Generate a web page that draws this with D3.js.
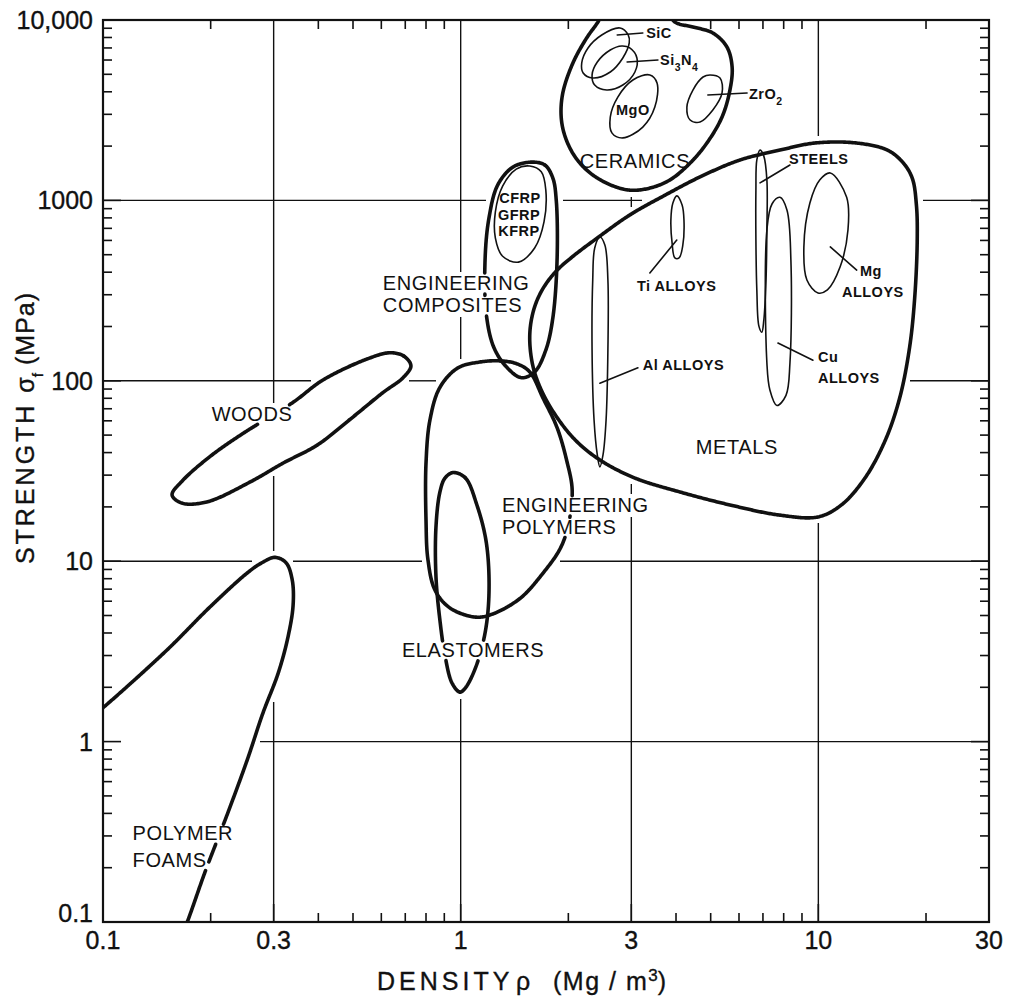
<!DOCTYPE html>
<html>
<head>
<meta charset="utf-8">
<title>Strength against density</title>
<script src="https://cdn.jsdelivr.net/npm/d3@7/dist/d3.min.js"></script>
<style>
  html, body { margin: 0; padding: 0; background: #fff; }
  svg { display: block; font-family: "Liberation Sans", Arial, Helvetica, sans-serif; }
</style>
</head>
<body>
<svg id="chart" width="1010" height="1002"></svg>
<script>
// ---------- axes ----------
const densityDomain = [0.1, 30];
const strengthDomain = [0.1, 10000];
const densityGrid = [0.3, 1, 3, 10];
const strengthGrid = [1, 10, 100, 1000];
const densityTickValues = [0.1, 0.3, 1, 3, 10, 30];
const densityTickLabels = ["0.1", "0.3", "1", "3", "10", "30"];
const strengthTickValues = [0.1, 1, 10, 100, 1000, 10000];
const strengthTickLabels = ["0.1", "1", "10", "100", "1000", "10,000"];

// ---------- material class envelopes: [density Mg/m3, strength MPa] ----------
const polymerFoams = [[0.09,1.3],[0.1,1.54],[0.151,3.22],[0.199,5.57],[0.253,8.6],[0.278,9.8],[0.303,10.5],[0.325,9.8],[0.338,7.9],[0.340,5.7],[0.329,3.8],[0.309,2.4],[0.280,1.44],[0.253,0.79],[0.222,0.39],[0.193,0.19],[0.172,0.1],[0.164,0.08]];
const woods = [[0.726,121],[0.694,137],[0.634,143],[0.547,132],[0.412,101],[0.340,76],[0.246,51],[0.199,38],[0.167,28],[0.156,23.3],[0.166,21],[0.195,21.3],[0.258,27.5],[0.319,35],[0.397,44],[0.490,61],[0.606,86],[0.690,104]];
const elastomers = [[0.952,31],[1.03,29],[1.11,20.5],[1.18,12.6],[1.20,6.7],[1.17,4.0],[1.10,2.56],[1.03,1.98],[0.995,1.88],[0.946,2.11],[0.904,3.0],[0.875,4.7],[0.853,8.2],[0.853,15.5],[0.875,24.2],[0.904,28.9]];
const engineeringPolymers = [[1.13,127],[1.29,129],[1.44,124],[1.56,112],[1.70,80],[1.86,55],[1.98,36],[2.05,24.8],[2.0,15.9],[1.90,11.8],[1.70,8.6],[1.47,6.25],[1.23,5.1],[1.10,4.9],[0.934,5.5],[0.848,6.9],[0.810,10.2],[0.800,16.9],[0.800,35],[0.821,61],[0.875,92],[0.983,118]];
const engineeringComposites = [[1.58,1630],[1.72,1570],[1.81,1330],[1.85,1005],[1.86,467],[1.81,223],[1.73,148],[1.61,112],[1.48,104],[1.35,118],[1.24,152],[1.18,232],[1.17,467],[1.20,800],[1.27,1220],[1.40,1530]];
const metals = [[1.56,179],[1.60,247],[1.69,319],[1.84,401],[2.05,486],[2.41,619],[2.97,830],[3.73,1070],[4.67,1350],[6.04,1675],[7.81,1900],[9.78,2080],[12.8,2080],[15.6,1900],[17.2,1630],[18.3,1330],[18.8,943],[18.9,603],[18.6,291],[18.0,154],[16.9,81],[15.4,47],[13.5,28.9],[11.6,20.5],[9.98,17.6],[7.81,18],[5.66,20.5],[4.10,24.2],[3.07,28.9],[2.45,36.4],[2.09,47],[1.84,64.6],[1.68,88.9],[1.59,122]];
const ceramics = [[2.42,9750],[2.25,7950],[2.06,5780],[1.93,3940],[1.91,2900],[1.96,2250],[2.09,1740],[2.30,1420],[2.62,1220],[2.97,1140],[3.38,1170],[3.85,1300],[4.38,1610],[4.88,2080],[5.38,2900],[5.66,4090],[5.74,5490],[5.55,7090],[5.07,8470],[4.46,9150],[3.97,9750],[3.73,11650],[3.11,12900],[2.56,11950]];

// ---------- individual material families ----------
const siliconCarbide = [[2.79,9030],[2.94,8260],[2.96,7460],[2.84,6160],[2.62,5150],[2.34,4770],[2.20,5080],[2.18,5780],[2.27,7000],[2.48,8260]];
const siliconNitride = [[2.97,7000],[3.11,6160],[3.07,5150],[2.84,4360],[2.56,4090],[2.37,4360],[2.33,4960],[2.41,5850],[2.62,6820],[2.82,7180]];
const magnesia = [[3.38,4960],[3.54,4480],[3.49,3290],[3.23,2550],[2.84,2220],[2.65,2360],[2.62,2900],[2.75,3740],[3.03,4650]];
const zirconia = [[4.98,4960],[5.31,4770],[5.38,3940],[5.07,3170],[4.67,2720],[4.38,2790],[4.29,3290],[4.46,4090],[4.76,4830]];
const fibreComposites = [[1.56,1550],[1.68,1440],[1.73,1140],[1.71,760],[1.61,545],[1.45,455],[1.31,490],[1.25,620],[1.25,860],[1.31,1200],[1.43,1490]];
const tiAlloys = [[4.02,1060],[4.16,943],[4.21,779],[4.18,566],[4.08,480],[3.97,480],[3.90,581],[3.87,779],[3.92,967]];
const alAlloys = [[2.45,627],[2.53,566],[2.58,362],[2.58,148],[2.55,60.6],[2.50,38.8],[2.45,33.3],[2.41,38.8],[2.36,60.6],[2.33,148],[2.34,362],[2.37,545]];
const steels = [[6.87,1900],[7.04,1760],[7.18,1300],[7.18,685],[7.14,362],[7.04,217],[6.95,186],[6.82,201],[6.73,319],[6.69,603],[6.69,1140],[6.73,1675]];
const cuAlloys = [[7.81,1040],[8.17,885],[8.38,467],[8.33,126],[8.12,83],[7.66,73],[7.32,89],[7.18,126],[7.18,685],[7.42,955]];
const mgAlloys = [[10.8,1420],[12.0,1040],[12.1,685],[11.5,427],[10.6,319],[9.98,307],[9.29,362],[9.11,552],[9.47,967],[10.1,1300]];

// ---------- leader lines from a family to its name ----------
const leaders = [
  [[2.74,8260],[3.23,8470]],
  [[2.92,5850],[3.56,6000]],
  [[4.91,3840],[6.32,3940]],
  [[6.87,1250],[8.33,1570]],
  [[4.02,603],[3.38,396]],
  [[2.45,97],[3.13,118]],
  [[7.71,162],[9.66,130]],
  [[10.8,552],[12.8,411]]
];

// ---------- names: [text, density, strength, anchor] ("_n" = subscript n) ----------
const classNames = [
  ["WOODS", 0.261, 65.5, "middle"],
  ["ENGINEERING", 0.606, 349, "start"],
  ["COMPOSITES", 0.606, 263, "start"],
  ["ENGINEERING", 1.305, 20.5, "start"],
  ["POLYMERS", 1.305, 15.5, "start"],
  ["ELASTOMERS", 0.685, 3.22, "start"],
  ["POLYMER", 0.121, 0.311, "start"],
  ["FOAMS", 0.121, 0.221, "start"]
];
const openClassNames = [
  ["CERAMICS", 3.07, 1650, "middle"],
  ["METALS", 5.92, 43, "middle"]
];
const familyNames = [
  ["SiC", 3.30, 8470, "start"],
  ["Si_3N_4", 3.61, 6000, "start"],
  ["ZrO_2", 6.40, 3890, "start"],
  ["MgO", 3.03, 3170, "middle"],
  ["CFRP", 1.465, 1031, "middle"],
  ["GFRP", 1.456, 830, "middle"],
  ["KFRP", 1.456, 677, "middle"],
  ["STEELS", 8.28, 1696, "start"],
  ["Ti ALLOYS", 3.11, 335, "start"],
  ["Mg", 13.07, 406, "start"],
  ["ALLOYS", 11.64, 311, "start"],
  ["Al ALLOYS", 3.23, 122, "start"],
  ["Cu", 9.975, 135.5, "start"],
  ["ALLOYS", 9.975, 104, "start"]
];

// ---------- layout ----------
const W = 1010, H = 1002;
const M = { left: 103, right: 989, top: 20, bottom: 922 };
const INK = "#111";
const HALO = 6;

const x = d3.scaleLog().domain(densityDomain).range([M.left, M.right]);
const y = d3.scaleLog().domain(strengthDomain).range([M.bottom, M.top]);

const svg = d3.select("#chart");
const defs = svg.append("defs");
defs.append("clipPath").attr("id", "plot-area").append("rect")
  .attr("x", M.left).attr("y", M.top)
  .attr("width", M.right - M.left).attr("height", M.bottom - M.top);

// layers, bottom to top
const gridLayer = svg.append("g").attr("stroke", INK).attr("stroke-width", 1.4).attr("stroke-linecap", "butt");
const tickLayer = svg.append("g").attr("stroke", INK).attr("stroke-width", 1.6);
const shapeLayer = svg.append("g").attr("clip-path", "url(#plot-area)")
  .attr("fill", "none").attr("stroke", INK).attr("stroke-linejoin", "round").attr("stroke-linecap", "round");
const nameLayer = svg.append("g").attr("fill", INK);
const axisTextLayer = svg.append("g").attr("fill", INK).attr("stroke", INK).attr("stroke-width", 0.35);

const closedCurve = d3.line().x(d => x(d[0])).y(d => y(d[1])).curve(d3.curveCatmullRomClosed.alpha(0.5));

// Follow the same Catmull-Rom curve d3 draws and return it as dense pixel points.
function traceCurve(points, closed) {
  const segs = [];
  let cx = 0, cy = 0, sx = 0, sy = 0;
  const ctx = {
    beginPath() {},
    moveTo(a, b) { cx = sx = a; cy = sy = b; },
    lineTo(a, b) { segs.push([cx, cy, a, b]); cx = a; cy = b; },
    bezierCurveTo(a, b, c, d, e, f) { segs.push([cx, cy, a, b, c, d, e, f]); cx = e; cy = f; },
    closePath() { if (cx !== sx || cy !== sy) segs.push([cx, cy, sx, sy]); cx = sx; cy = sy; }
  };
  d3.line().x(d => x(d[0])).y(d => y(d[1]))
    .curve(closed ? d3.curveCatmullRomClosed.alpha(0.5) : d3.curveCatmullRom.alpha(0.5))
    .context(ctx)(points);
  const out = [];
  for (const s of segs) {
    let len = 0;
    for (let k = 2; k < s.length; k += 2) len += Math.hypot(s[k] - s[k - 2], s[k + 1] - s[k - 1]);
    const n = Math.max(2, Math.ceil(len / 1.2));
    for (let k = 0; k < n; k++) {
      const t = k / n, u = 1 - t;
      if (s.length === 4) {
        out.push([s[0] + (s[2] - s[0]) * t, s[1] + (s[3] - s[1]) * t]);
      } else {
        out.push([
          u * u * u * s[0] + 3 * u * u * t * s[2] + 3 * u * t * t * s[4] + t * t * t * s[6],
          u * u * u * s[1] + 3 * u * u * t * s[3] + 3 * u * t * t * s[5] + t * t * t * s[7]
        ]);
      }
    }
  }
  if (segs.length) { const s = segs[segs.length - 1]; out.push([s[s.length - 2], s[s.length - 1]]); }
  return out;
}

const envelopes = [
  { id: "polymer-foams", points: polymerFoams, open: true, corner: [0.05, 0.05] },
  { id: "woods", points: woods },
  { id: "engineering-polymers", points: engineeringPolymers },
  { id: "elastomers", points: elastomers },
  { id: "engineering-composites", points: engineeringComposites },
  { id: "metals", points: metals },
  { id: "ceramics", points: ceramics }
];
envelopes.forEach(e => {
  e.trace = traceCurve(e.points, !e.open);
  e.polygon = e.open ? e.trace.concat([[x(e.corner[0]), y(e.corner[1])]]) : e.trace;
  e.box = [d3.min(e.polygon, p => p[0]) - HALO, d3.min(e.polygon, p => p[1]) - HALO,
           d3.max(e.polygon, p => p[0]) + HALO, d3.max(e.polygon, p => p[1]) + HALO];
});
const families = [siliconCarbide, siliconNitride, magnesia, zirconia, fibreComposites,
  tiAlloys, alAlloys, steels, cuAlloys, mgAlloys];

// ---------- names ----------
function writeName(d, size, weight, spacing) {
  const t = nameLayer.append("text")
    .attr("x", x(d[1])).attr("y", y(d[2])).attr("dy", "0.36em")
    .attr("text-anchor", d[3]).attr("font-size", size)
    .attr("font-weight", weight).attr("letter-spacing", spacing);
  d[0].split(/(_\d)/).forEach(part => {
    if (!part) return;
    if (part[0] === "_") {
      t.append("tspan").attr("baseline-shift", "sub").attr("font-size", "72%").text(part.slice(1));
    } else {
      t.append("tspan").text(part);
    }
  });
  // extent of the name in pixels
  let b = null;
  try { b = t.node().getBBox(); } catch (err) { b = null; }
  if (!b || b.width < 1) {
    const w = d[0].replace(/_/g, "").length * size * 0.62;
    const x0 = d[3] === "middle" ? x(d[1]) - w / 2 : x(d[1]);
    b = { x: x0, y: y(d[2]) - size * 0.62, width: w, height: size * 1.15 };
  }
  return { x0: b.x, y0: b.y, x1: b.x + b.width, y1: b.y + b.height };
}
const classBoxes = classNames.map(d => writeName(d, 20, 400, 0.6));
const otherBoxes = openClassNames.map(d => writeName(d, 20, 400, 0.6))
  .concat(familyNames.map(d => writeName(d, 14.5, 700, 0.5)));
const allBoxes = classBoxes.concat(otherBoxes);

// ---------- grid: each line stops short of envelopes and names ----------
function blocked(px, py) {
  for (const b of allBoxes) {
    if (px >= b.x0 - 3 && px <= b.x1 + 3 && py >= b.y0 && py <= b.y1) return true;
  }
  for (const e of envelopes) {
    if (px < e.box[0] || px > e.box[2] || py < e.box[1] || py > e.box[3]) continue;
    if (d3.polygonContains(e.polygon, [px, py])) return true;
    for (const s of e.trace) {
      const dx = s[0] - px, dy = s[1] - py;
      if (dx * dx + dy * dy < HALO * HALO) return true;
    }
  }
  return false;
}
function openRuns(len, at) {
  const runs = [];
  let start = null;
  for (let k = 0; k <= len; k++) {
    const free = !blocked(...at(k));
    if (free && start === null) start = k;
    if ((!free || k === len) && start !== null) {
      const end = free ? k : k - 1;
      if (end - start >= 2) runs.push([start, end]);
      start = null;
    }
  }
  return runs;
}
const gridSegments = [];
densityGrid.forEach(v => {
  const gx = x(v);
  openRuns(Math.round(M.bottom - M.top), k => [gx, M.top + k])
    .forEach(r => gridSegments.push([gx, M.top + r[0], gx, M.top + r[1]]));
});
strengthGrid.forEach(v => {
  const gy = y(v);
  openRuns(Math.round(M.right - M.left), k => [M.left + k, gy])
    .forEach(r => gridSegments.push([M.left + r[0], gy, M.left + r[1], gy]));
});
gridLayer.selectAll("line").data(gridSegments).join("line")
  .attr("x1", d => d[0]).attr("y1", d => d[1]).attr("x2", d => d[2]).attr("y2", d => d[3]);

// ---------- ticks ----------
const isOn = (v, list) => list.some(t => Math.abs(Math.log10(v) - Math.log10(t)) < 1e-6);
const ceramicsEnvelope = envelopes.find(e => e.id === "ceramics");
const xMinor = x.ticks().filter(v => !isOn(v, densityTickValues));
const xMinorTop = xMinor.filter(v => !d3.polygonContains(ceramicsEnvelope.polygon, [x(v), M.top + 4]));
const yMinor = y.ticks().filter(v => !isOn(v, strengthTickValues.concat(strengthGrid)));
const TL = 9, MAJ = 18;
tickLayer.selectAll("line.tb").data(xMinor).join("line").attr("class", "tb")
  .attr("x1", d => x(d)).attr("x2", d => x(d)).attr("y1", M.bottom).attr("y2", M.bottom - TL);
tickLayer.selectAll("line.tt").data(xMinorTop).join("line").attr("class", "tt")
  .attr("x1", d => x(d)).attr("x2", d => x(d)).attr("y1", M.top).attr("y2", M.top + TL);
tickLayer.selectAll("line.tl").data(yMinor).join("line").attr("class", "tl")
  .attr("x1", M.left).attr("x2", M.left + TL).attr("y1", d => y(d)).attr("y2", d => y(d));
tickLayer.selectAll("line.tr").data(yMinor).join("line").attr("class", "tr")
  .attr("x1", M.right).attr("x2", M.right - TL).attr("y1", d => y(d)).attr("y2", d => y(d));
tickLayer.selectAll("line.ml").data(strengthGrid).join("line").attr("class", "ml")
  .attr("x1", M.left).attr("x2", M.left + MAJ).attr("y1", d => y(d)).attr("y2", d => y(d));
tickLayer.selectAll("line.mr").data(strengthGrid).join("line").attr("class", "mr")
  .attr("x1", M.right).attr("x2", M.right - MAJ).attr("y1", d => y(d)).attr("y2", d => y(d));
tickLayer.selectAll("line.mb").data(densityGrid).join("line").attr("class", "mb")
  .attr("x1", d => x(d)).attr("x2", d => x(d)).attr("y1", M.bottom).attr("y2", M.bottom - MAJ);

// ---------- envelopes, broken where a class name sits on them ----------
const underName = p => classBoxes.some(b =>
  p[0] >= b.x0 - 2 && p[0] <= b.x1 + 2 && p[1] >= b.y0 + 2 && p[1] <= b.y1 - 1);
const pixelLine = d3.line();
envelopes.forEach(e => {
  const pieces = [];
  let cur = [];
  e.trace.forEach(p => {
    if (underName(p)) { if (cur.length > 1) pieces.push(cur); cur = []; }
    else cur.push(p);
  });
  if (cur.length > 1) pieces.push(cur);
  shapeLayer.append("g").attr("id", e.id).attr("stroke-width", 3.6)
    .selectAll("path").data(pieces).join("path").attr("d", pixelLine);
});
shapeLayer.selectAll("path.fam").data(families).join("path").attr("class", "fam")
  .attr("d", d => closedCurve(d)).attr("stroke-width", 1.6);
shapeLayer.selectAll("line.leader").data(leaders).join("line").attr("class", "leader")
  .attr("x1", d => x(d[0][0])).attr("y1", d => y(d[0][1]))
  .attr("x2", d => x(d[1][0])).attr("y2", d => y(d[1][1]))
  .attr("stroke-width", 1.6);

// ---------- tick labels ----------
axisTextLayer.selectAll("text.xl").data(densityTickValues).join("text").attr("class", "xl")
  .attr("font-size", 25)
  .attr("x", d => x(d)).attr("y", M.bottom + 18).attr("dy", "0.36em")
  .attr("text-anchor", "middle").text((d, i) => densityTickLabels[i]);
axisTextLayer.selectAll("text.yl").data(strengthTickValues).join("text").attr("class", "yl")
  .attr("font-size", 25)
  .attr("x", M.left - 10).attr("y", d => Math.min(y(d), M.bottom - 9)).attr("dy", "0.36em")
  .attr("text-anchor", "end").text((d, i) => strengthTickLabels[i]);

// ---------- axis titles ----------
const xTitle = axisTextLayer.append("text").attr("font-size", 25).attr("y", 990);
xTitle.append("tspan").attr("x", 377).attr("letter-spacing", 4).text("DENSITY");
xTitle.append("tspan").attr("x", 516).text("ρ");
xTitle.append("tspan").attr("x", 553).attr("letter-spacing", 1.5).text("(Mg / m");
xTitle.append("tspan").attr("baseline-shift", "super").attr("font-size", "68%").text("3");
xTitle.append("tspan").text(")");

const yTitle = axisTextLayer.append("text").attr("font-size", 25)
  .attr("transform", "translate(34,428) rotate(-90)").attr("text-anchor", "middle");
yTitle.append("tspan").attr("letter-spacing", 3).text("STRENGTH ");
yTitle.append("tspan").text("σ");
yTitle.append("tspan").attr("baseline-shift", "sub").attr("font-size", "62%").text("f");
yTitle.append("tspan").attr("letter-spacing", 1).text("  (MPa)");

// ---------- frame ----------
svg.append("rect").attr("x", M.left).attr("y", M.top)
  .attr("width", M.right - M.left).attr("height", M.bottom - M.top)
  .attr("fill", "none").attr("stroke", INK).attr("stroke-width", 2.2);
</script>
</body>
</html>
